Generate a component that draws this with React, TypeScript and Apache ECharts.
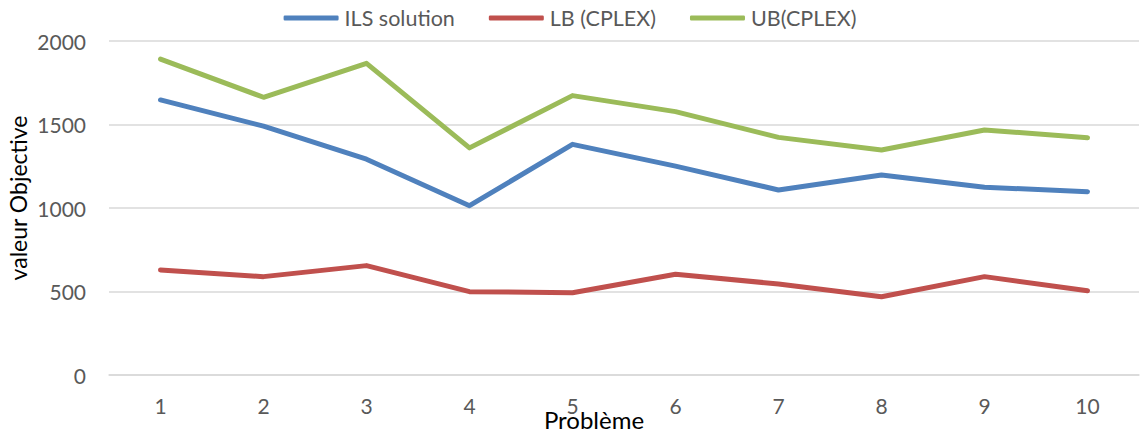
import React, { useEffect, useRef } from "react";
import * as echarts from "echarts";

const categories = ["1", "2", "3", "4", "5", "6", "7", "8", "9", "10"];
const ilsSolution = [1647, 1490, 1292, 1014, 1381, 1251, 1108, 1198, 1124, 1098];
const lbCplex = [629, 589, 655, 499, 493, 603, 545, 469, 589, 505];
const ubCplex = [1892, 1663, 1866, 1360, 1673, 1577, 1423, 1347, 1467, 1421];
const yTicks = { min: 0, max: 2000, interval: 500 };

const FONT = "Lato, 'Noto Sans', sans-serif";

export default function App() {
  const ref = useRef<HTMLDivElement>(null);
  useEffect(() => {
    if (!ref.current) return;
    const chart = echarts.init(ref.current, undefined, { renderer: "svg" });
    const lineSeries = (name: string, data: number[], color: string) => ({
      name,
      type: "line",
      data,
      symbol: "none",
      color,
      lineStyle: { width: 5, color, cap: "round", join: "round" },
    });
    chart.setOption({
      animation: false,
      backgroundColor: "#ffffff",
      textStyle: { fontFamily: FONT },
      legend: {
        top: 2,
        left: "center",
        itemWidth: 55,
        itemHeight: 5,
        itemGap: 34,
        icon: "roundRect",
        textStyle: { fontSize: 21.5, color: "#595959", fontFamily: FONT, padding: [0, 0, 0, 1] },
        data: ["ILS solution", "LB (CPLEX)", "UB(CPLEX)"],
      },
      grid: { left: 109, right: 1, top: 41, bottom: 59, containLabel: false, outerBoundsMode: "none" },
      xAxis: {
        type: "category",
        data: categories,
        boundaryGap: true,
        name: "Problème",
        nameLocation: "middle",
        nameGap: 32,
        nameMoveOverlap: false,
        nameTextStyle: { fontSize: 24, color: "#000000", fontFamily: FONT, padding: [0, 60, 0, 0] },
        axisLine: { show: true, lineStyle: { color: "#D9D9D9", width: 1.5 } },
        axisTick: { show: false },
        axisLabel: { fontSize: 21, color: "#595959", margin: 20, fontFamily: FONT },
        splitLine: { show: false },
      },
      yAxis: {
        type: "value",
        min: yTicks.min,
        max: yTicks.max,
        interval: yTicks.interval,
        name: "valeur Objective",
        nameLocation: "middle",
        nameGap: 80,
        nameMoveOverlap: false,
        nameRotate: 90,
        nameTextStyle: { fontSize: 23, color: "#000000", fontFamily: FONT, padding: [0, 0, 0, 20] },
        axisLine: { show: false },
        axisTick: { show: false },
        axisLabel: {
          fontSize: 21,
          color: "#595959",
          margin: 23,
          fontFamily: FONT,
          formatter: (v: number) => String(v),
        },
        splitLine: { show: true, lineStyle: { color: "#D9D9D9", width: 1.5 } },
      },
      series: [
        lineSeries("ILS solution", ilsSolution, "#4F81BD"),
        lineSeries("LB (CPLEX)", lbCplex, "#C0504D"),
        lineSeries("UB(CPLEX)", ubCplex, "#9BBB59"),
      ],
    });
    return () => chart.dispose();
  }, []);
  return (
    <div
      ref={ref}
      style={{ position: "absolute", left: 0, top: 0, width: 1140, height: 434 }}
    />
  );
}
